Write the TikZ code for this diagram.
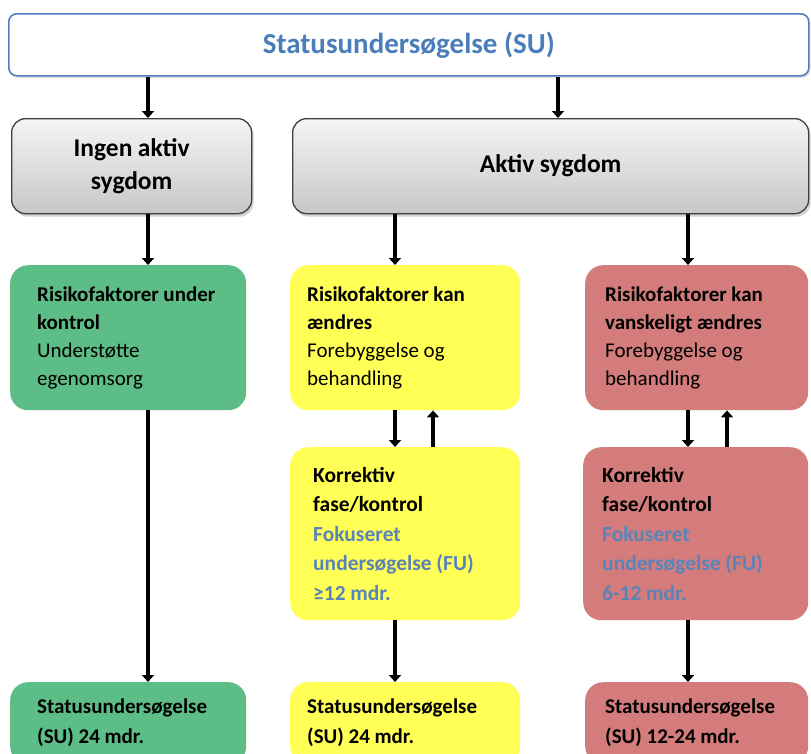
\documentclass[tikz,border=0pt]{standalone}
\usepackage{fontspec}
\setmainfont{Carlito}
\usetikzlibrary{arrows.meta,shadows}
\definecolor{topblue}{HTML}{4F81BD}
\definecolor{titleblue}{HTML}{4A7EBB}
\definecolor{gboxfill}{HTML}{5DBD86}
\definecolor{yboxfill}{HTML}{FFFF55}
\definecolor{rboxfill}{HTML}{D47C7C}
\definecolor{fublue}{HTML}{5A84B8}
\definecolor{grayedge}{HTML}{3F3F3F}
\newcommand\tightwords[1]{\spaceskip #1\relax}
\tikzset{
  arr/.style={line width=3.6pt,-{Triangle[length=7pt,width=12pt]}},
  topbox/.style={draw=topblue,line width=1.6pt,rounded corners=8pt,fill=white,
    text=titleblue,font=\bfseries\fontsize{29}{32}\selectfont,anchor=north west,
    minimum width=800pt,minimum height=62pt,
    drop shadow={shadow xshift=1.5pt,shadow yshift=-2pt,opacity=0.25}},
  graybox/.style={draw=grayedge,line width=1.3pt,rounded corners=14pt,
    top color=black!4,bottom color=black!22,align=center,anchor=north west,
    font=\bfseries\fontsize{25.5}{33}\selectfont,
    execute at begin node={\tightwords{5.5pt}},
    drop shadow={shadow xshift=2pt,shadow yshift=-3pt,opacity=0.35}},
  cbox/.style={rounded corners=18pt,anchor=north west,align=left,inner ysep=0pt,
    execute at begin node={\tightwords{4.7pt}}},
  rowone/.style={cbox,font=\fontsize{21}{28}\selectfont,minimum height=145pt},
  rowtwo/.style={cbox,font=\fontsize{21.5}{29.5}\selectfont,minimum height=173pt},
  rowthree/.style={cbox,font=\fontsize{21}{30}\selectfont,minimum height=90pt},
}
\begin{document}
\begin{tikzpicture}[x=1pt,y=-1pt]
\useasboundingbox (0,0) rectangle (811,753);
\clip (0,0) rectangle (811,753);
\fill[white] (0,0) rectangle (811,753);

% top
\node[topbox] (su) at (8,13) {Statusundersøgelse (SU)};

% gray boxes
\node[graybox,minimum width=240pt,minimum height=95pt] (ing) at (11,118) {Ingen aktiv\\sygdom};
\node[graybox,minimum width=516pt,minimum height=95pt] (akt) at (292,118) {Aktiv sygdom};

% row 1
\node[rowone,fill=gboxfill,inner xsep=27pt,text width=182pt] (g1) at (10,265)
  {\textbf{Risikofaktorer under}\\\textbf{kontrol}\\Understøtte\\egenomsorg};
\node[rowone,fill=yboxfill,inner xsep=17pt,text width=196pt] (y1) at (290,265)
  {\textbf{Risikofaktorer kan}\\\textbf{ændres}\\Forebyggelse og\\behandling};
\node[rowone,fill=rboxfill,inner xsep=20pt,text width=183pt] (r1) at (585,265)
  {\textbf{Risikofaktorer kan}\\\textbf{vanskeligt ændres}\\Forebyggelse og\\behandling};

% row 2
\node[rowtwo,fill=yboxfill,inner xsep=23pt,text width=184pt] (y2) at (290,447)
  {\textbf{Korrektiv}\\\textbf{fase/kontrol}\\\textcolor{fublue}{\textbf{Fokuseret}}\\\textcolor{fublue}{\textbf{undersøgelse (FU)}}\\\textcolor{fublue}{\textbf{≥12 mdr.}}};
\node[rowtwo,fill=rboxfill,inner xsep=19pt,text width=187pt] (r2) at (583,447)
  {\textbf{Korrektiv}\\\textbf{fase/kontrol}\\\textcolor{fublue}{\textbf{Fokuseret}}\\\textcolor{fublue}{\textbf{undersøgelse (FU)}}\\\textcolor{fublue}{\textbf{6-12 mdr.}}};

% row 3
\node[rowthree,fill=gboxfill,inner xsep=27pt,text width=182pt,minimum height=82pt] (g3) at (10,682)
  {\textbf{Statusundersøgelse}\\\textbf{(SU) 24 mdr.}};
\node[rowthree,fill=yboxfill,inner xsep=17pt,text width=196pt,minimum height=82pt] (y3) at (290,682)
  {\textbf{Statusundersøgelse}\\\textbf{(SU) 24 mdr.}};
\node[rowthree,fill=rboxfill,inner xsep=20pt,text width=183pt,minimum height=82pt] (r3) at (585,682)
  {\textbf{Statusundersøgelse}\\\textbf{(SU) 12-24 mdr.}};

% connectors
\draw[arr] (su.south -| 148,0) -- (ing.north -| 148,0);
\draw[arr] (su.south -| 558,0) -- (akt.north -| 558,0);
\draw[arr] (ing.south -| 148,0) -- (g1.north -| 148,0);
\draw[arr] (akt.south -| 395,0) -- (y1.north -| 395,0);
\draw[arr] (akt.south -| 688,0) -- (r1.north -| 688,0);
\draw[arr] (y1.south -| 395,0) -- (y2.north -| 395,0);
\draw[arr] (y2.north -| 433,0) -- (y1.south -| 433,0);
\draw[arr] (r1.south -| 688,0) -- (r2.north -| 688,0);
\draw[arr] (r2.north -| 727,0) -- (r1.south -| 727,0);
\draw[arr] (g1.south -| 148,0) -- (g3.north -| 148,0);
\draw[arr] (y2.south -| 395,0) -- (y3.north -| 395,0);
\draw[arr] (r2.south -| 688,0) -- (r3.north -| 688,0);
\end{tikzpicture}
\end{document}
